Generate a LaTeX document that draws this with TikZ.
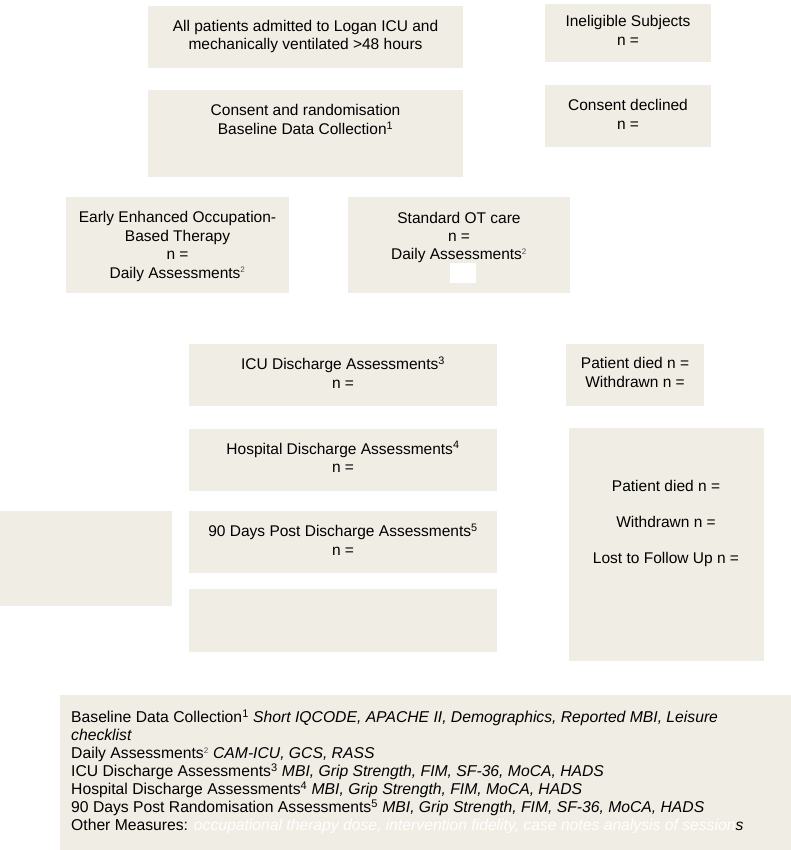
\documentclass[tikz,border=0pt]{standalone}
\usepackage{fontspec}
\setmainfont{Liberation Sans}
\definecolor{beige}{RGB}{240,237,229}
\newcommand{\sps}[1]{\textsuperscript{#1}}
\newcommand{\spl}[1]{\textsuperscript{\color{black!70}\fontsize{8}{8}\selectfont #1}}
\begin{document}
\begin{tikzpicture}[x=1pt,y=-1pt,
  box/.style={fill=beige, draw=none, inner sep=0pt, anchor=north west},
  txt/.style={align=center, inner sep=0pt, font=\fontsize{15.5}{18.4}\selectfont},
  note/.style={align=left, inner sep=0pt, anchor=north west, font=\fontsize{15.7}{17.9}\selectfont}]
\useasboundingbox (0,0) rectangle (791,850);
% boxes
\node[box, minimum width=315pt, minimum height=62pt] (b1) at (148,6) {};
\node[box, minimum width=166pt, minimum height=58pt] (b2) at (545,4) {};
\node[box, minimum width=315pt, minimum height=87pt] (b3) at (148,90) {};
\node[box, minimum width=166pt, minimum height=62pt] (b4) at (545,85) {};
\node[box, minimum width=223pt, minimum height=96pt] (b5) at (66,197) {};
\node[box, minimum width=222pt, minimum height=96pt] (b6) at (348,197) {};
\node[box, fill=white, minimum width=26pt, minimum height=20pt] (w6) at (450,263) {};
\node[box, minimum width=308pt, minimum height=62pt] (b7) at (189,344) {};
\node[box, minimum width=138pt, minimum height=62pt] (b8) at (566,344) {};
\node[box, minimum width=308pt, minimum height=62pt] (b9) at (189,429) {};
\node[box, minimum width=308pt, minimum height=62pt] (b10) at (189,511) {};
\node[box, minimum width=172pt, minimum height=95pt] (b11) at (0,511) {};
\node[box, minimum width=308pt, minimum height=63pt] (b12) at (189,589) {};
\node[box, minimum width=195pt, minimum height=233pt] (b13) at (569,428) {};
\node[box, minimum width=731pt, minimum height=155pt] (b14) at (60,695) {};
% texts
\node[txt] (t1) at (305.5,36.5) {All patients admitted to Logan ICU and\\mechanically ventilated >48 hours};
\node[txt] (t2) at (628,30.5) {Ineligible Subjects\\n =};
\node[txt] (t3) at (305.5,119.5) {Consent and randomisation\\Baseline Data Collection\sps{1}};
\node[txt] (t4) at (628,114.5) {Consent declined\\n =};
\node[txt] (t5) at (177.5,246.5) {Early Enhanced Occupation-\\Based Therapy\\n =\\Daily Assessments\spl{2}};
\node[txt] (t6) at (459,237.5) {Standard OT care\\n =\\Daily Assessments\spl{2}};
\node[txt] (t7) at (343,372.5) {ICU Discharge Assessments\sps{3}\\n =};
\node[txt] (t8) at (635,372.5) {Patient died n =\\Withdrawn n =};
\node[txt] (t9) at (343,457) {Hospital Discharge Assessments\sps{4}\\n =};
\node[txt] (t10) at (343,539.5) {90 Days Post Discharge Assessments\sps{5}\\n =};
\node[txt, font=\fontsize{15.5}{36}\selectfont] (t13) at (666,523) {Patient died n =\\Withdrawn n =\\Lost to Follow Up n =};
\node[note] (t14) at (71,710) {Baseline Data Collection\sps{1} \textit{Short IQCODE, APACHE II, Demographics, Reported MBI, Leisure}\\
\textit{checklist}\\
Daily Assessments\spl{2} \textit{CAM-ICU, GCS, RASS}\\
ICU Discharge Assessments\sps{3} \textit{MBI, Grip Strength, FIM, SF-36, MoCA, HADS}\\
Hospital Discharge Assessments\sps{4} \textit{MBI, Grip Strength, FIM, MoCA, HADS}\\
90 Days Post Randomisation Assessments\sps{5} \textit{MBI, Grip Strength, FIM, SF-36, MoCA, HADS}\\
Other Measures: \textcolor{white}{\textit{occupational therapy dose, intervention fidelity, case notes analysis of session}}\textit{s}};
\end{tikzpicture}
\end{document}
